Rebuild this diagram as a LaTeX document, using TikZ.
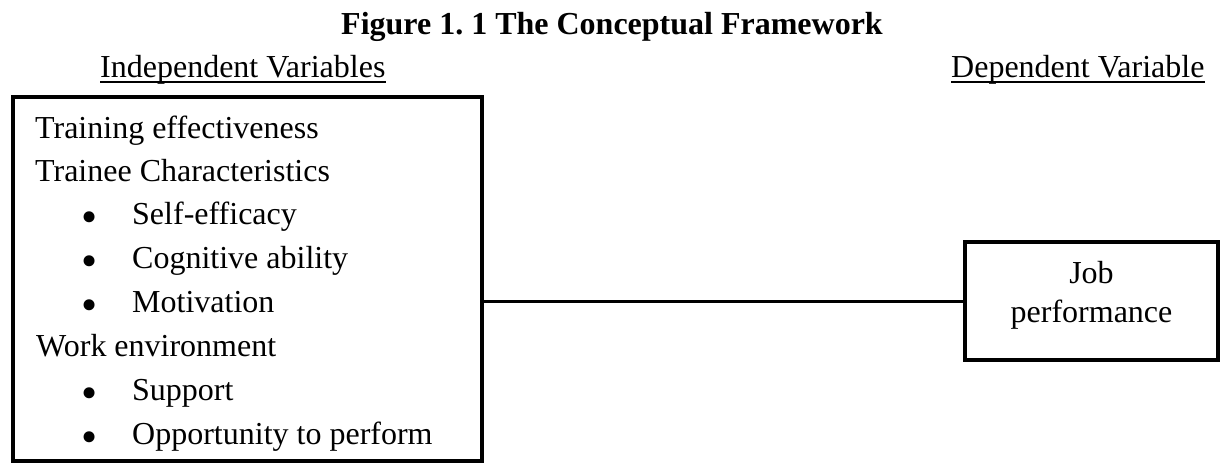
\documentclass[tikz,border=0pt]{standalone}
\usepackage{fontspec}
\setmainfont{Liberation Serif}
\begin{document}
\begin{tikzpicture}[x=1pt,y=-1pt,
  txt/.style={inner sep=0pt, anchor=base west, font=\fontsize{32}{42}\selectfont},
  ctxt/.style={inner sep=0pt, anchor=base, font=\fontsize{32}{42}\selectfont},
  ttl/.style={inner sep=0pt, anchor=base, font=\fontsize{32}{42}\selectfont\bfseries},
  bul/.style={inner sep=0pt, anchor=base, font=\fontsize{46}{50}\selectfont},
  bigbox/.style={draw, line width=4pt, inner sep=0pt, outer sep=0pt},
  ul/.style={line width=1.6pt},
  conn/.style={line width=3pt}]
\useasboundingbox (0,0) rectangle (1220,464);
% title and headings
\node[ttl] (title) at (612,34) {Figure 1.\ 1 The Conceptual Framework};
\node[txt] (ih) at (100,77) {Independent Variables};
\node[txt] (dh) at (951,77) {Dependent Variable};
\draw[ul] ([yshift=-5pt]ih.base west) -- ([yshift=-5pt]ih.base east);
\draw[ul] ([yshift=-5pt]dh.base west) -- ([yshift=-5pt]dh.base east);
% left box
\node[bigbox, minimum width=469pt, minimum height=364pt] (lb) at (247.5,279) {};
\node[txt] (t1) at (35,138) {Training effectiveness};
\node[txt] (t2) at (35,181) {Trainee Characteristics};
\node[bul] (b1) at (90,232) {•};
\node[txt] (t3) at (132,224) {Self-efficacy};
\node[bul] (b2) at (90,276) {•};
\node[txt] (t4) at (132,268) {Cognitive ability};
\node[bul] (b3) at (90,320) {•};
\node[txt] (t5) at (132,312) {Motivation};
\node[txt] (t6) at (36,356) {Work environment};
\node[bul] (b4) at (90,408) {•};
\node[txt] (t7) at (132,400) {Support};
\node[bul] (b5) at (90,452) {•};
\node[txt] (t8) at (132,444) {Opportunity to perform};
% right box
\node[bigbox, minimum width=253pt, minimum height=118pt] (rb) at (1091.5,301) {};
\node[ctxt] (j1) at ([yshift=18pt]rb.center) {Job};
\node[ctxt] (j2) at ([yshift=-21pt]rb.center) {performance};
% connector
\draw[conn] (rb.west -| lb.east) -- (rb.west);
\end{tikzpicture}
\end{document}
